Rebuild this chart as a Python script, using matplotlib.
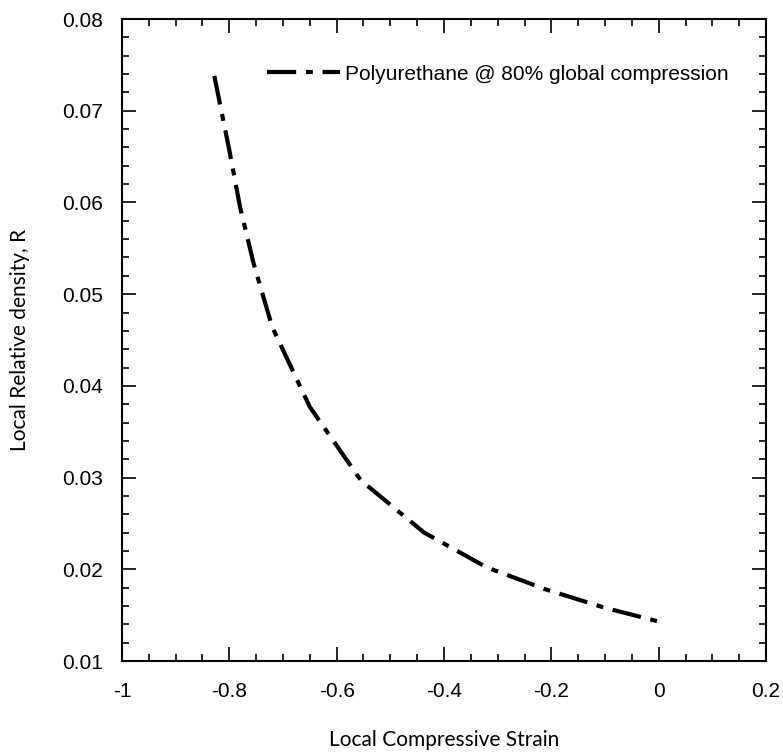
import matplotlib
matplotlib.use("Agg")
import matplotlib.pyplot as plt
from matplotlib.ticker import MultipleLocator, FormatStrFormatter

# Local strain vs local relative density
strain = [-0.828, -0.80, -0.78, -0.755, -0.72, -0.65, -0.555, -0.437, -0.32, -0.21, -0.10, 0.0]
density = [0.0738, 0.0657, 0.0595, 0.0534, 0.0464, 0.0377, 0.0297, 0.0240, 0.0202, 0.0178, 0.0158, 0.0143]
series_label = "Polyurethane @ 80% global compression"

plt.rcParams['font.family'] = ['Liberation Sans', 'DejaVu Sans']
plt.rcParams['lines.scale_dashes'] = False

fig = plt.figure(figsize=(7.83, 7.55), dpi=100)
ax = fig.add_axes([0.1558, 0.1245, 0.8225, 0.8503])

ax.plot(strain, density, color='black', linewidth=3.0,
        dashes=(21, 7, 5, 7), label=series_label)

ax.set_xlim(-1, 0.2)
ax.set_ylim(0.01, 0.08)
ax.xaxis.set_major_locator(MultipleLocator(0.2))
ax.xaxis.set_minor_locator(MultipleLocator(0.05))
ax.yaxis.set_major_locator(MultipleLocator(0.01))
ax.yaxis.set_minor_locator(MultipleLocator(0.002))
ax.xaxis.set_major_formatter(plt.FuncFormatter(lambda v, p: "%g" % round(v, 2)))
ax.yaxis.set_major_formatter(FormatStrFormatter('%.2f'))

ax.tick_params(which='both', direction='in', top=True, right=True, width=1.2,
               labelsize=15)
ax.tick_params(which='major', length=10)
ax.tick_params(which='minor', length=5)
ax.tick_params(axis='y', which='major', pad=14)
ax.tick_params(axis='x', which='major', pad=15)
for s in ax.spines.values():
    s.set_linewidth(1.5)

ax.set_xlabel("Local Compressive Strain", family=['Lato', 'DejaVu Sans'],
              fontsize=15)
ax.set_ylabel("Local Relative density, R", family=['Lato', 'DejaVu Sans'],
              fontsize=15)
ax.xaxis.set_label_coords(0.5, -(740 - 661) / 642, transform=ax.transAxes)
ax.yaxis.set_label_coords(-(122 - 20) / 644, 1 - (340 - 19) / 642,
                          transform=ax.transAxes)
ax.xaxis.label.set_va('center')
ax.yaxis.label.set_va('center')

ax.legend(loc='center left', bbox_to_anchor=(0.225, 1 - (74 - 19) / 642),
          frameon=False, fontsize=15, handlelength=3.5, handletextpad=0.25,
          borderpad=0, borderaxespad=0)

fig.savefig("out.png", dpi=100)
